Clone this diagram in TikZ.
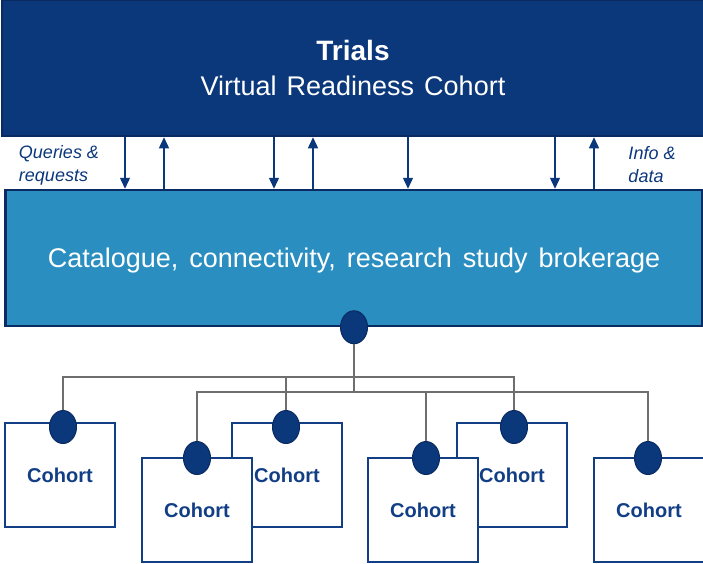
\documentclass[tikz,border=0pt]{standalone}
\usepackage{fontspec}
\setmainfont{Liberation Sans}
\usetikzlibrary{shapes.geometric,arrows.meta}
\definecolor{navy}{HTML}{0B377B}
\definecolor{edgenavy}{HTML}{0A2B62}
\definecolor{brokerblue}{HTML}{2A8EC0}
\definecolor{cohortblue}{HTML}{123E86}
\definecolor{wiregrey}{HTML}{6E6E6E}
\begin{document}
\begin{tikzpicture}
[x=1pt,y=-1pt,>={Triangle[length=11pt,width=10pt]},
banner/.style = {draw=edgenavy, line width=2.5pt, fill=navy, text=white, align=center, inner sep=0pt},
broker/.style = {draw=edgenavy, line width=2.5pt, fill=brokerblue, text=white, inner sep=0pt, text height=19pt, text depth=0pt},
cohort/.style = {draw=cohortblue, line width=2.5pt, fill=white, text=cohortblue, minimum width=110pt, minimum height=104pt, text height=14.3pt, text depth=0pt, font=\fontsize{20}{22}\selectfont\bfseries},
pin/.style = {draw=edgenavy, line width=1pt, fill=navy, ellipse, minimum width=27pt, minimum height=33pt, inner sep=0pt},
flow/.style = {->, draw=navy, line width=1.4pt},
wire/.style = {draw=wiregrey, line width=1.5pt},
side/.style = {text=navy, align=left, font=\fontsize{18}{23}\selectfont\itshape},]
\useasboundingbox (0,0) rectangle (703,563);
\node (trials) at (353,68)[banner, minimum width=702pt, minimum height=136pt, font=\fontsize{27}{35}\selectfont] {{\fontsize{28}{35}\selectfont\textbf{Trials}}\\Virtual\hspace{10pt}Readiness\hspace{10pt}Cohort};
\node (cat) at (354,258)[broker, minimum width=697pt, minimum height=136pt, font=\fontsize{27}{30}\selectfont] {Catalogue,\hspace{11pt}connectivity,\hspace{11pt}research\hspace{11pt}study\hspace{11pt}brokerage};
\node (queries) at (59,165)[side] {Queries \&\\requests};
\node (info) at (652,165)[side] {Info \&\\data};

\draw[flow] (trials.south -| 125,0) -- (cat.north -| 125,0);
\draw[flow] (cat.north -| 164,0) -- (trials.south -| 164,0);
\draw[flow] (trials.south -| 274,0) -- (cat.north -| 274,0);
\draw[flow] (cat.north -| 313,0) -- (trials.south -| 313,0);
\draw[flow] (trials.south -| 408,0) -- (cat.north -| 408,0);
\draw[flow] (trials.south -| 555,0) -- (cat.north -| 555,0);
\draw[flow] (cat.north -| 594,0) -- (trials.south -| 594,0);

% back row
\node (c1) at (60,475)[cohort] {Cohort};
\node (c2) at (287,475)[cohort] {Cohort};
\node (c4) at (512,475)[cohort] {Cohort};
% front row
\node (c3) at (197,510)[cohort] {Cohort};
\node (c5) at (423,510)[cohort] {Cohort};
\node (c6) at (649,510)[cohort] {Cohort};

\node (hub) at (cat.south)[pin] {};
\node (p1) at (63,427)[pin] {};
\node (p2) at (286,427)[pin] {};
\node (p4) at (514,427)[pin] {};
\node (p3) at (197,458)[pin] {};
\node (p5) at (426,458)[pin] {};
\node (p6) at (648,458)[pin] {};

\draw[wire] (hub.south) -- (hub |- 0,392);
\draw[wire] (p1.north) |- (hub |- 0,377) -| (p4.north);
\draw[wire] (p2.north) -- (p2 |- 0,377);
\draw[wire] (p3.north) |- (p6 |- 0,392) -- (p6.north);
\draw[wire] (p5.north) -- (p5 |- 0,392);

\end{tikzpicture}
\end{document}
